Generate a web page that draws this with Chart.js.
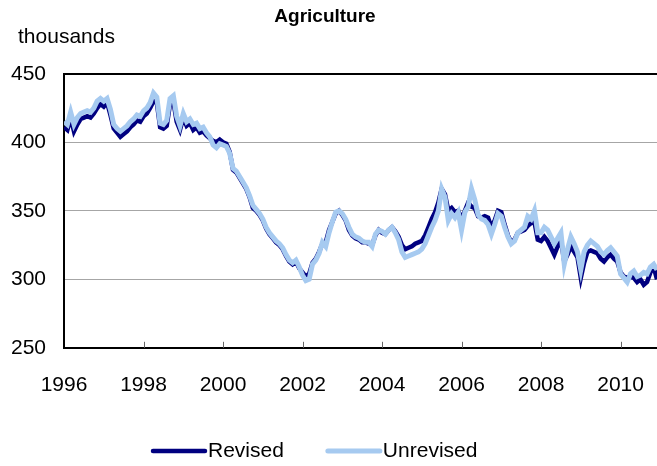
<!DOCTYPE html>
<html>
<head>
<meta charset="utf-8">
<script src="https://cdn.jsdelivr.net/npm/chart.js@4.4.0/dist/chart.umd.min.js"></script>
<style>
  body { margin: 0; background: #fff; }
  #wrap { width: 657px; height: 466px; }
</style>
</head>
<body>
<div id="wrap"><canvas id="chart"></canvas></div>
<script>
// monthly series, Jan 1996 .. Dec 2010 (thousands)
const startYear = 1996;
const yearTicks = [1996, 1998, 2000, 2002, 2004, 2006, 2008, 2010];
const yTicks = [250, 300, 350, 400, 450];
const seriesNames = ['Revised', 'Unrevised'];

const revised = [
  411, 409, 418, 408, 413, 417, 418, 419, 418, 421, 425, 428,
  426, 429, 420, 410, 407, 404, 406, 408, 411, 413, 416, 415,
  419, 421, 425, 430, 429, 411, 410, 412, 428, 430, 415, 409,
  418, 412, 414, 409, 411, 407, 408, 405, 403, 401, 400, 402,
  400, 399, 393, 380, 378, 374, 370, 366, 360, 352, 350, 347,
  343, 337, 333, 330, 327, 325, 322, 317, 313, 311, 313, 308,
  305, 302, 304, 312, 315, 320, 326, 327, 336, 342, 348, 350,
  347, 343, 336, 332, 330, 329, 327, 327, 326, 325, 332, 336,
  334, 333, 336, 338, 335, 331, 325, 322, 323, 324, 326, 327,
  328, 332, 338, 344, 349, 356, 366, 362, 350, 352, 349, 350,
  344, 350, 356, 353, 352, 346, 345, 346, 345, 338, 343, 350,
  349, 340, 332, 327, 329, 334, 335, 336, 339, 341, 342, 329,
  328, 331, 328, 323, 318, 324, 329, 313, 318, 324, 320, 316,
  301, 312, 320, 321, 320, 319, 315, 313, 316, 318, 315, 313,
  305, 302, 301, 302, 301, 298, 300, 296, 298, 305, 309, 300
];

const unrevised = [
  415, 413, 422, 413, 418, 421, 422, 423, 422, 425, 430, 432,
  430, 432, 424, 413, 410, 408, 410, 412, 415, 417, 420, 419,
  423, 425, 429, 436, 433, 414, 413, 416, 432, 434, 419, 412,
  421, 415, 417, 413, 414, 410, 411, 407, 404, 398, 396, 399,
  398, 397, 392, 381, 379, 375, 371, 367, 361, 354, 351, 348,
  344, 338, 334, 331, 328, 326, 323, 318, 314, 312, 314, 309,
  303, 299, 300, 311, 314, 319, 327, 324, 334, 342, 349, 350,
  348, 344, 338, 333, 331, 330, 328, 327, 327, 324, 333, 336,
  335, 333, 336, 338, 334, 329, 320, 316, 317, 318, 319, 320,
  322, 326, 332, 338, 343, 350, 366, 360, 343, 348, 345, 349,
  336, 349, 353, 366, 358, 347, 344, 343, 340, 333, 340, 348,
  346, 338, 331, 326, 328, 334, 336, 338, 346, 344, 350, 334,
  334, 338, 336, 331, 326, 330, 334, 311, 322, 331, 326, 320,
  307, 320, 325, 328, 326, 324, 320, 318, 321, 323, 320, 317,
  304, 301, 298, 304, 306, 302, 303, 305, 304, 309, 311, 307
];

const FONT = '"Liberation Sans", Arial, sans-serif';

function toPoints(values) {
  return values.map((v, i) => ({ x: startYear + i / 12, y: v }));
}

// inward x tick marks, "thousands" label and legend drawn by hand (Excel style)
const extras = {
  id: 'extras',
  afterDraw(chart) {
    const ctx = chart.ctx;
    const area = chart.chartArea;
    const xScale = chart.scales.x;
    ctx.save();

    ctx.strokeStyle = '#666';
    ctx.lineWidth = 1;
    yearTicks.slice(1).forEach(v => {
      const px = Math.round(xScale.getPixelForValue(v)) + 0.5;
      ctx.beginPath();
      ctx.moveTo(px, area.bottom);
      ctx.lineTo(px, area.bottom - 6);
      ctx.stroke();
    });

    ctx.fillStyle = '#000';
    ctx.font = '21px ' + FONT;
    ctx.textBaseline = 'middle';
    ctx.textAlign = 'left';
    ctx.fillText('thousands', area.left - 46, 37);

    let x = 153;
    const y = 451;
    chart.data.datasets.forEach(ds => {
      ctx.strokeStyle = ds.borderColor;
      ctx.lineWidth = ds.borderWidth;
      ctx.lineCap = 'round';
      ctx.beginPath();
      ctx.moveTo(x, y);
      ctx.lineTo(x + 52, y);
      ctx.stroke();
      ctx.fillText(ds.label, x + 55, y);
      x += 55 + ctx.measureText(ds.label).width + 44;
    });
    ctx.restore();
  }
};

new Chart(document.getElementById('chart'), {
  type: 'line',
  data: {
    datasets: [
      {
        label: seriesNames[0],
        data: toPoints(revised),
        borderColor: '#000080',
        borderWidth: 4.5,
        pointRadius: 0,
        tension: 0,
        order: 2
      },
      {
        label: seriesNames[1],
        data: toPoints(unrevised),
        borderColor: '#a6caf0',
        borderWidth: 5,
        pointRadius: 0,
        tension: 0,
        order: 1
      }
    ]
  },
  options: {
    responsive: true,
    maintainAspectRatio: false,
    animation: false,
    layout: { autoPadding: false, padding: { left: -7, right: 0, top: 0, bottom: 68 } },
    plugins: {
      legend: { display: false },
      tooltip: { enabled: false },
      title: {
        display: true,
        text: 'Agriculture',
        color: '#000',
        font: { family: FONT, size: 19, weight: 'bold' },
        padding: { top: 5, bottom: 46 }
      }
    },
    scales: {
      x: {
        type: 'linear',
        min: startYear,
        max: startYear + (revised.length - 1) / 12,
        afterBuildTicks: axis => { axis.ticks = yearTicks.map(v => ({ value: v })); },
        ticks: {
          color: '#000',
          font: { family: FONT, size: 21 },
          padding: 0,
          maxRotation: 0,
          autoSkip: false,
          callback: v => String(v)
        },
        grid: { drawOnChartArea: false, drawTicks: true, tickLength: 25, color: 'rgba(0,0,0,0)' },
        border: { color: '#000', width: 2 }
      },
      y: {
        min: 250,
        max: 450,
        afterBuildTicks: axis => { axis.ticks = yTicks.map(v => ({ value: v })); },
        ticks: {
          color: '#000',
          font: { family: FONT, size: 21 },
          padding: 18
        },
        grid: {
          drawTicks: false,
          color: c => c.tick && c.tick.value === 450 ? '#000' : '#a6a6a6',
          lineWidth: c => c.tick && c.tick.value === 450 ? 2 : 1
        },
        border: { color: '#000', width: 2 }
      }
    }
  },
  plugins: [extras]
});
</script>
</body>
</html>
